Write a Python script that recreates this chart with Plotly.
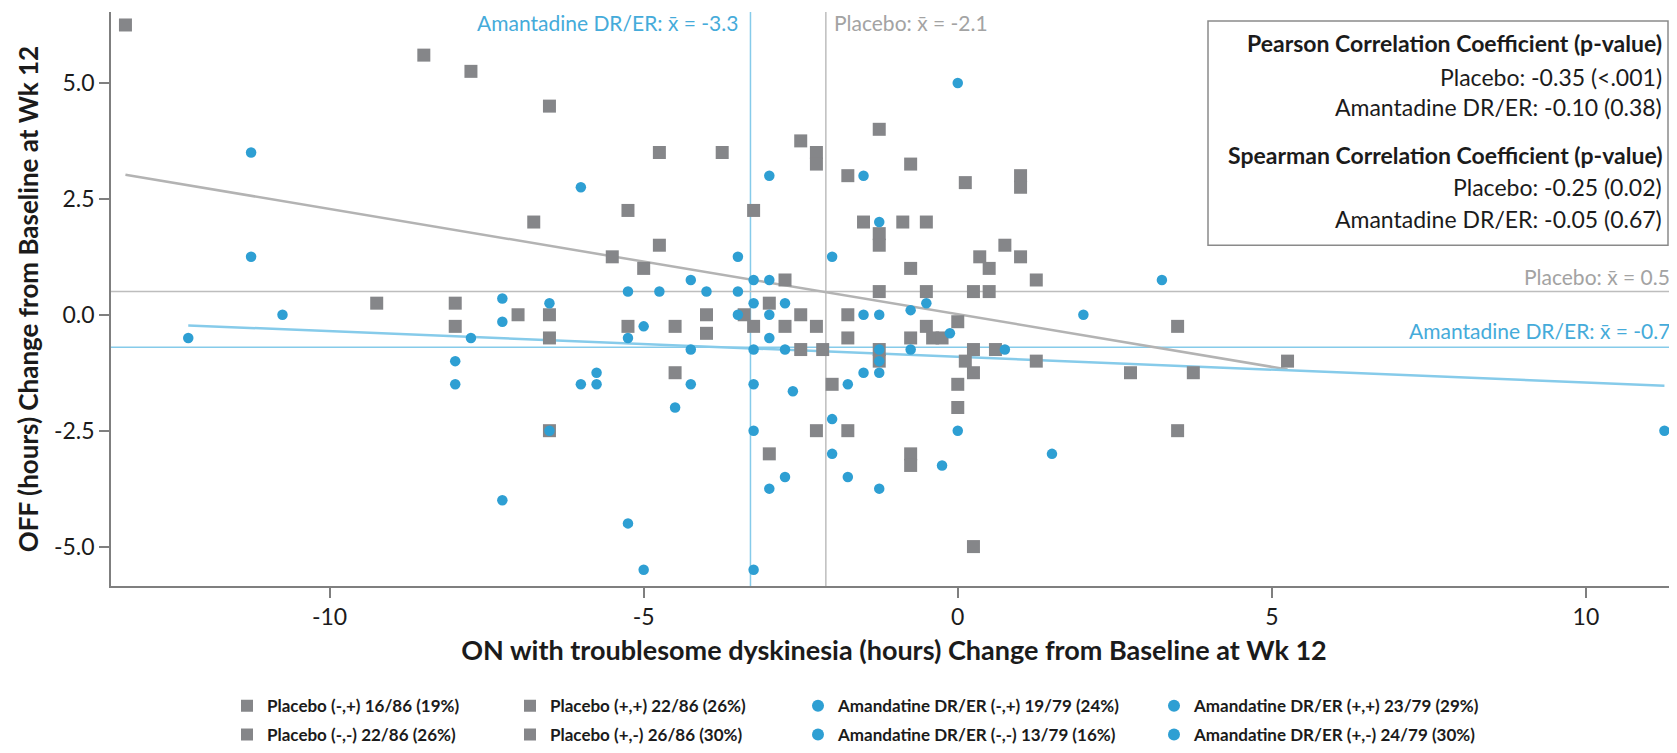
import numpy as np
import plotly.graph_objects as go

# ---------------- data ----------------
placebo_x = [-13.25, -8.5, -7.75, -6.5, -4.75, -3.75, -5.25, -3.25, -6.75, -4.75,
             -5.5, -5.0, -2.75, -1.25, -2.5, -2.25, -2.25, -1.75, -0.75, 0.12,
             1.0, 1.0, -1.5, -0.875, -0.5, -1.25, -1.25, 0.75, 0.35, 0.5,
             1.0, -0.75, 1.25, -1.25, -0.5, 0.25, 0.5, -9.25, -8.0, -8.0,
             -7.0, -6.5, -6.5, -6.5, -5.25, -4.5, -4.0, -4.0, -4.5, -3.4,
             -3.25, -3.0, -3.0, -2.75, -2.5, -2.25, -1.75, -1.75, -2.5, -2.15,
             -1.25, -1.25, -2.0, -2.25, -1.75, -0.75, -0.5, -0.4, -0.25, 0.0,
             0.25, 0.6, 0.12, 0.25, 0.0, 0.0, -0.75, -0.75, 0.25, 1.25,
             2.75, 3.5, 3.5, 3.75, 5.25]
placebo_y = [6.25, 5.6, 5.25, 4.5, 3.5, 3.5, 2.25, 2.25, 2.0, 1.5,
             1.25, 1.0, 0.75, 4.0, 3.75, 3.5, 3.25, 3.0, 3.25, 2.85,
             3.0, 2.75, 2.0, 2.0, 2.0, 1.75, 1.5, 1.5, 1.25, 1.0,
             1.25, 1.0, 0.75, 0.5, 0.5, 0.5, 0.5, 0.25, 0.25, -0.25,
             0.0, 0.0, -0.5, -2.5, -0.25, -0.25, 0.0, -0.4, -1.25, 0.0,
             -0.25, 0.25, -3.0, -0.25, 0.0, -0.25, 0.0, -0.5, -0.75, -0.75,
             -0.75, -1.0, -1.5, -2.5, -2.5, -0.5, -0.25, -0.5, -0.5, -0.15,
             -0.75, -0.75, -1.0, -1.25, -1.5, -2.0, -3.0, -3.25, -5.0, -1.0,
             -1.25, -0.25, -2.5, -1.25, -1.0]

aman_x = [-12.25, -11.25, -11.25, -10.75, -8.0, -8.0, -7.75, -7.25, -7.25, -7.25,
          -6.5, -6.5, -6.0, -6.0, -5.75, -5.75, -5.25, -5.25, -5.0, -5.25,
          -5.0, -4.75, -4.25, -4.0, -4.25, -4.25, -4.5, -3.5, -3.5, -3.5,
          -3.25, -3.25, -3.25, -3.25, -3.25, -3.25, -3.0, -3.0, -3.0, -3.0,
          -3.0, -2.75, -2.75, -2.75, -2.625, -2.0, -2.0, -2.0, -1.75, -1.75,
          -1.5, -1.5, -1.5, -1.25, -1.25, -1.25, -1.25, -1.25, -1.25, -0.75,
          -0.75, -0.5, -0.125, -0.25, 0.0, 0.0, 0.75, 1.5, 2.0, 3.25,
          11.25]
aman_y = [-0.5, 3.5, 1.25, 0.0, -1.0, -1.5, -0.5, 0.35, -0.15, -4.0,
          0.25, -2.5, 2.75, -1.5, -1.25, -1.5, 0.5, -0.5, -0.25, -4.5,
          -5.5, 0.5, 0.75, 0.5, -0.75, -1.5, -2.0, 1.25, 0.5, 0.0,
          0.75, 0.25, -0.75, -1.5, -2.5, -5.5, 3.0, 0.75, 0.0, -0.5,
          -3.75, 0.25, -0.75, -3.5, -1.65, 1.25, -2.25, -3.0, -1.5, -3.5,
          3.0, 0.0, -1.25, 2.0, 0.0, -0.75, -1.0, -1.25, -3.75, 0.1,
          -0.75, 0.25, -0.4, -3.25, 5.0, -2.5, -0.75, -3.0, 0.0, 0.75,
          -2.5]

placebo_mean_x, placebo_mean_y = -2.1, 0.5
aman_mean_x, aman_mean_y = -3.3, -0.7

placebo_fit_x = [-13.25, 5.25]
placebo_fit_y = [3.02, -1.18]
aman_fit_x = [-12.25, 11.25]
aman_fit_y = [-0.23, -1.53]

quadrants = ["(-,+)", "(+,+)", "(-,-)", "(+,-)"]
placebo_counts = ["16/86 (19%)", "22/86 (26%)", "22/86 (26%)", "26/86 (30%)"]
aman_counts = ["19/79 (24%)", "23/79 (29%)", "13/79 (16%)", "24/79 (30%)"]

corr_groups = ["Placebo", "Amantadine DR/ER"]
pearson_r = ["-0.35", "-0.10"]
pearson_p = ["&lt;.001", "0.38"]
spearman_r = ["-0.25", "-0.05"]
spearman_p = ["0.02", "0.67"]

x_range = [-13.48, 11.45]
y_range = [-5.85, 6.53]
x_ticks = [-10, -5, 0, 5, 10]
y_ticks = [-5.0, -2.5, 0.0, 2.5, 5.0]

# ---------------- style ----------------
OFF = 8  # page body margin offset
W, H = 1677 - OFF, 753 - OFF
ML, MR, MT, MB = 111 - OFF, 0, 12 - OFF, 163
PW, PH = W - ML - MR, H - MT - MB
FONT = "Lato"
GREY_M = "#858689"
BLUE_M = "#2E9FD3"
GREY_L = "#BDBDBD"
BLUE_L = "#86CBEA"
GREY_T = "#A3A3A3"
BLUE_T = "#45ABDA"
DARK = "#1b1b1b"


def px_x(p):
    """page pixel x -> paper coordinate"""
    return (p - OFF - ML) / PW


def px_y(p):
    """page pixel y -> paper coordinate"""
    return (H - MB - (p - OFF)) / PH


def quad_masks(x, y, mx, my):
    x = np.asarray(x); y = np.asarray(y)
    return [(x < mx) & (y >= my), (x >= mx) & (y >= my),
            (x < mx) & (y < my), (x >= mx) & (y < my)]


fig = go.Figure()

# regression lines
fig.add_trace(go.Scatter(x=placebo_fit_x, y=placebo_fit_y, mode="lines",
                         line=dict(color="#B3B3B3", width=2.5), showlegend=False, hoverinfo="skip"))
fig.add_trace(go.Scatter(x=aman_fit_x, y=aman_fit_y, mode="lines",
                         line=dict(color=BLUE_L, width=2.5), showlegend=False, hoverinfo="skip"))

leg_cols = {("P", 0): (249, 711), ("P", 1): (532, 711), ("P", 2): (249, 740), ("P", 3): (532, 740),
            ("A", 0): (820, 711), ("A", 1): (1176, 711), ("A", 2): (820, 740), ("A", 3): (1176, 740)}

legends = {}
k = 0
px_arr, py_arr = np.asarray(placebo_x), np.asarray(placebo_y)
for qi, m in enumerate(quad_masks(placebo_x, placebo_y, placebo_mean_x, placebo_mean_y)):
    k += 1
    lname = "legend" if k == 1 else f"legend{k}"
    fig.add_trace(go.Scatter(x=px_arr[m], y=py_arr[m], mode="markers",
                             marker=dict(symbol="square", size=13, color=GREY_M),
                             name=f"Placebo {quadrants[qi]} {placebo_counts[qi]}", legend=lname))
    legends[lname] = leg_cols[("P", qi)]
ax_arr, ay_arr = np.asarray(aman_x), np.asarray(aman_y)
for qi, m in enumerate(quad_masks(aman_x, aman_y, aman_mean_x, aman_mean_y)):
    k += 1
    lname = f"legend{k}"
    fig.add_trace(go.Scatter(x=ax_arr[m], y=ay_arr[m], mode="markers",
                             marker=dict(symbol="circle", size=10.5, color=BLUE_M),
                             name=f"Amandatine DR/ER {quadrants[qi]} {aman_counts[qi]}", legend=lname))
    legends[lname] = leg_cols[("A", qi)]

layout_legends = {}
for lname, (mx, my) in legends.items():
    layout_legends[lname] = dict(x=px_x(mx - 22), y=px_y(my), xanchor="left", yanchor="middle",
                                 orientation="v", bgcolor="rgba(0,0,0,0)", borderwidth=0,
                                 font=dict(family=FONT, size=17, color=DARK, weight="bold"),
                                 itemsizing="constant")

shapes = [
    dict(type="line", xref="x", yref="paper", x0=aman_mean_x, x1=aman_mean_x, y0=0, y1=1,
         line=dict(color=BLUE_L, width=1.5), layer="below"),
    dict(type="line", xref="x", yref="paper", x0=placebo_mean_x, x1=placebo_mean_x, y0=0, y1=1,
         line=dict(color=GREY_L, width=1.5), layer="below"),
    dict(type="line", xref="paper", yref="y", x0=0, x1=1, y0=placebo_mean_y, y1=placebo_mean_y,
         line=dict(color=GREY_L, width=1.5), layer="below"),
    dict(type="line", xref="paper", yref="y", x0=0, x1=1, y0=aman_mean_y, y1=aman_mean_y,
         line=dict(color=BLUE_L, width=1.5), layer="below"),
    dict(type="rect", xref="paper", yref="paper", x0=px_x(1208), x1=px_x(1668),
         y0=px_y(247), y1=px_y(21), line=dict(color="#8a8a8a", width=1.5), fillcolor="white"),
]

LBL = 21
ann = [
    dict(x=aman_mean_x, y=px_y(OFF), xref="x", yref="paper", xanchor="right", yanchor="top",
         xshift=-10, text=f"Amantadine DR/ER: x\u0304 = {aman_mean_x}", showarrow=False,
         font=dict(family=FONT, size=LBL, color=BLUE_T)),
    dict(x=placebo_mean_x, y=px_y(OFF), xref="x", yref="paper", xanchor="left", yanchor="top",
         xshift=6, text=f"Placebo: x\u0304 = {placebo_mean_x}", showarrow=False,
         font=dict(family=FONT, size=LBL, color=GREY_T)),
    dict(x=px_x(1672), y=placebo_mean_y, xref="paper", yref="y", xanchor="right", yanchor="middle",
         yshift=15, text=f"Placebo: x\u0304 = {placebo_mean_y}", showarrow=False,
         font=dict(family=FONT, size=LBL, color=GREY_T)),
    dict(x=px_x(1672), y=aman_mean_y, xref="paper", yref="y", xanchor="right", yanchor="middle",
         yshift=17, text=f"Amantadine DR/ER: x\u0304 = {aman_mean_y}", showarrow=False,
         font=dict(family=FONT, size=LBL, color=BLUE_T)),
]

box_lines = [
    ("Pearson Correlation Coefficient (p-value)", True, 43),
    (f"{corr_groups[0]}: {pearson_r[0]} ({pearson_p[0]})", False, 77),
    (f"{corr_groups[1]}: {pearson_r[1]} ({pearson_p[1]})", False, 108),
    ("Spearman Correlation Coefficient (p-value)", True, 156),
    (f"{corr_groups[0]}: {spearman_r[0]} ({spearman_p[0]})", False, 188),
    (f"{corr_groups[1]}: {spearman_r[1]} ({spearman_p[1]})", False, 220),
]
for txt, bold, ypix in box_lines:
    ann.append(dict(x=px_x(1664), y=px_y(ypix), xref="paper", yref="paper",
                    xanchor="right", yanchor="middle", text=txt, showarrow=False,
                    font=dict(family=FONT, size=23, color=DARK,
                              weight="bold" if bold else "normal")))

fig.update_layout(
    width=W, height=H,
    margin=dict(l=ML, r=MR, t=MT, b=MB),
    paper_bgcolor="white", plot_bgcolor="white",
    font=dict(family=FONT, color=DARK),
    shapes=shapes, annotations=ann,
    **layout_legends,
)

fig.update_xaxes(range=x_range, tickvals=x_ticks, ticktext=[str(v) for v in x_ticks],
                 showgrid=False, zeroline=False, showline=True, linecolor="#7f7f7f", linewidth=1.5,
                 ticks="outside", ticklen=10, tickcolor="#7f7f7f", tickwidth=1.5,
                 tickfont=dict(family=FONT, size=23, color=DARK),
                 title=dict(text="ON with troublesome dyskinesia (hours) Change from Baseline at Wk 12",
                            font=dict(family=FONT, size=27, color=DARK, weight="bold"), standoff=12))
fig.update_yaxes(range=y_range, tickvals=y_ticks, ticktext=[f"{v:.1f}" for v in y_ticks],
                 showgrid=False, zeroline=False, showline=True, linecolor="#7f7f7f", linewidth=1.5,
                 ticks="outside", ticklen=10, tickcolor="#7f7f7f", tickwidth=1.5,
                 tickfont=dict(family=FONT, size=23, color=DARK),
                 title=dict(text="OFF (hours) Change from Baseline at Wk 12",
                            font=dict(family=FONT, size=26, color=DARK, weight="bold"), standoff=8))

fig.write_html("out.html")
